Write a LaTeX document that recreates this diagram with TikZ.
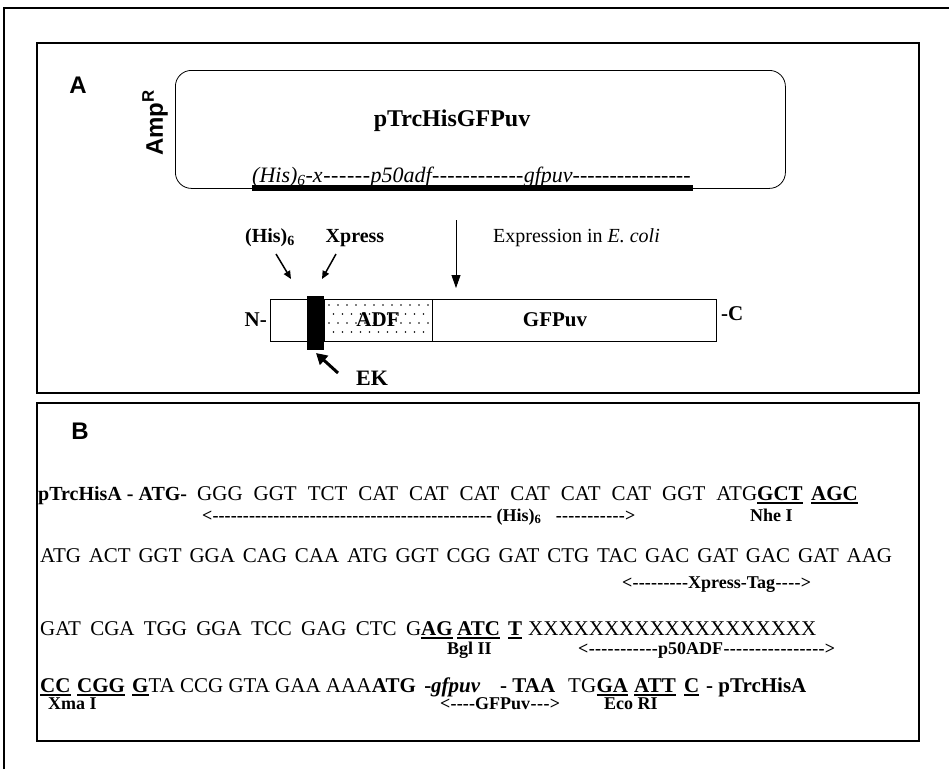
\documentclass[tikz,border=0pt]{standalone}
\usepackage{fontspec}
\setmainfont{Liberation Serif}
\newfontfamily\sfont{Liberation Sans}
\usetikzlibrary{arrows.meta}
\newsavebox\ulbox
\newcommand\ulb[1]{\sbox\ulbox{#1}\rlap{\rule[-3.5pt]{\wd\ulbox}{1.5pt}}\usebox\ulbox}
\newcommand\ldash[1]{\hbox to #1{<\xleaders\hbox{-}\hfill}}
\newcommand\rdash[1]{\hbox to #1{\xleaders\hbox{-}\hfill>}}
\newcommand\mdash[1]{\hbox to #1{\xleaders\hbox{-}\hfill}}
\begin{document}
\begin{tikzpicture}[x=1pt,y=-1pt,
  frame/.style={draw,line width=1.8pt,inner sep=0,anchor=north west},
  seq/.style={font=\fontsize{21}{25}\selectfont,inner sep=0,anchor=base west},
  seqb/.style={font=\fontsize{21}{25}\selectfont\bfseries,inner sep=0,anchor=base west},
  lab/.style={font=\fontsize{18}{22}\selectfont\bfseries,inner sep=0,anchor=base west},
  plab/.style={font=\fontsize{21}{25}\selectfont\bfseries,inner sep=0},
  letter/.style={font=\sfont\fontsize{24}{28}\selectfont\bfseries,inner sep=0},
  pbox/.style={draw,line width=1.4pt,inner sep=0,anchor=north west,minimum height=42pt},
  smallarr/.style={line width=1.5pt,-{Triangle[length=8pt,width=7pt]}}]
\useasboundingbox (0,0) rectangle (949,769);
% outer frame
\coordinate (o1) at (4,769); \coordinate (o2) at (4,8); \coordinate (o3) at (949,8);
\draw[line width=2pt] (o1) -- (o2) -- (o3);
% panels
\node[frame,minimum width=882pt,minimum height=350pt] (panA) at (36,42) {};
\node[frame,minimum width=882pt,minimum height=338pt] (panB) at (36,402) {};
\node[letter] (labA) at (78,85) {A};
\node[letter] (labB) at (80,431) {B};
% plasmid
\node[draw,line width=0.8pt,rounded corners=16pt,inner sep=0,anchor=north west,
      minimum width=610pt,minimum height=118pt] (plasmid) at (175,70) {};
\node[letter,rotate=90] (amp) at (155,123) {Amp\textsuperscript{R}};
\node[font=\fontsize{24}{30}\selectfont\bfseries,inner sep=0] (title) at (452,121) {pTrcHisGFPuv};
\coordinate (bar1) at (252,188); \coordinate (bar2) at (693,188);
\draw[line width=6pt] (bar1) -- (bar2);
\node[font=\fontsize{22}{26}\selectfont\itshape,inner sep=0,anchor=base west] (gene) at (252,182)
  {(His)\textsubscript{6}-x\mdash{48pt}p50adf\mdash{92pt}gfpuv\mdash{118pt}};
% expression
\coordinate (ex1) at (456,220); \coordinate (ex2) at (456,288);
\draw[line width=0.8pt,-{Triangle[length=13pt,width=9pt]}] (ex1) -- (ex2);
\node[font=\fontsize{20}{24}\selectfont,inner sep=0,anchor=west] (expr) at (493,238) {Expression in \textit{E. coli}};
% protein
\node[pbox,minimum width=37pt] (hisbox) at (270,299) {};
\node[pbox,minimum width=108pt] (adfbox) at (324,299) {};
\node[pbox,minimum width=284pt] (gfpbox) at (432,299) {};
\foreach \yy in {305,323}
  \foreach \xx in {329,338,...,428} \fill (\xx,\yy) circle[radius=0.8];
\foreach \yy in {314,332}
  \foreach \xx in {333.5,342.5,...,428} \fill (\xx,\yy) circle[radius=0.8];
\node[fill=black,inner sep=0,anchor=north west,minimum width=17pt,minimum height=54pt] (ekbar) at (307,296) {};
\node[plab] (adft) at (378,320) {ADF};
\node[plab] (gfpt) at (555,320) {GFPuv};
\node[plab,anchor=east] (nterm) at (267,320) {N-};
\node[plab,anchor=west] (cterm) at (721,314) {-C};
\node[plab,font=\fontsize{20}{24}\selectfont\bfseries] (hislab) at (270,238) {(His)\textsubscript{6}};
\node[plab,font=\fontsize{20}{24}\selectfont\bfseries] (xplab) at (355,238) {Xpress};
\coordinate (ha1) at (276,254); \coordinate (ha2) at (291,279);
\coordinate (xa1) at (336,254); \coordinate (xa2) at (322,279);
\draw[smallarr] (ha1) -- (ha2);
\draw[smallarr] (xa1) -- (xa2);
\node[plab,font=\fontsize{22}{26}\selectfont\bfseries] (ek) at (372,378) {EK};
\coordinate (ek1) at (338,373); \coordinate (ek2) at (316,353);
\draw[line width=3pt,-{Triangle[length=11pt,width=12pt]}] (ek1) -- (ek2);
% panel B sequence
\node[seqb,font=\fontsize{20}{24}\selectfont\bfseries] (l1a) at (38,500) {pTrcHisA - ATG-};
\node[seq] (l1b) at (197,500) {\makebox[560pt][s]{GGG GGT TCT CAT CAT CAT CAT CAT CAT GGT ATG}};
\node[seqb] (l1c) at (757,500) {\ulb{GCT}};
\node[seqb] (l1d) at (811,500) {\ulb{AGC}};
\node[lab] (his6) at (202,521) {\ldash{290pt} (His)\textsubscript{6}\hspace{14pt}\rdash{80pt}};
\node[lab] (nhe) at (750,521) {Nhe I};
\node[seq] (l2) at (40,562) {\makebox[852pt][s]{ATG ACT GGT GGA CAG CAA ATG GGT CGG GAT CTG TAC GAC GAT GAC GAT AAG}};
\node[lab] (xtag) at (622,588) {\ldash{66pt}Xpress-Tag\rdash{36pt}};
\node[seq] (l3a) at (40,635) {\makebox[381pt][s]{GAT CGA TGG GGA TCC GAG CTC G}};
\node[seqb] (l3b) at (421,635) {\ulb{AG}};
\node[seqb] (l3c) at (457,635) {\ulb{ATC}};
\node[seqb] (l3d) at (508,635) {\ulb{T}};
\node[seq] (l3e) at (528,635) {XXXXXXXXXXXXXXXXXXX};
\node[lab] (bgl) at (447,654) {Bgl II};
\node[lab] (p50) at (578,654) {\ldash{80pt}p50ADF\rdash{112pt}};
\node[seqb] (l4a) at (40,692) {\ulb{CC}};
\node[seqb] (l4b) at (77,692) {\ulb{CGG}};
\node[seq] (l4c) at (132,692) {\ulb{\bfseries G}TA CCG GTA GAA AAA};
\node[seqb] (l4d) at (l4c.base east) {ATG};
\node[seqb] (l4e) at ([xshift=8pt]l4d.base east) {-\textit{gfpuv}};
\node[seqb] (l4f) at (500,692) {- TAA};
\node[seq] (l4g) at (568,692) {TG};
\node[seqb] (l4h) at (l4g.base east) {\ulb{GA}};
\node[seqb] (l4i) at (634,692) {\ulb{ATT}};
\node[seqb] (l4j) at (684,692) {\ulb{C}};
\node[seqb] (l4k) at (706,692) {- pTrcHisA};
\node[lab] (xma) at (48,709) {Xma I};
\node[lab] (gfpl) at (440,709) {\ldash{35pt}GFPuv\rdash{30pt}};
\node[lab] (eco) at (604,709) {Eco RI};
\end{tikzpicture}
\end{document}
